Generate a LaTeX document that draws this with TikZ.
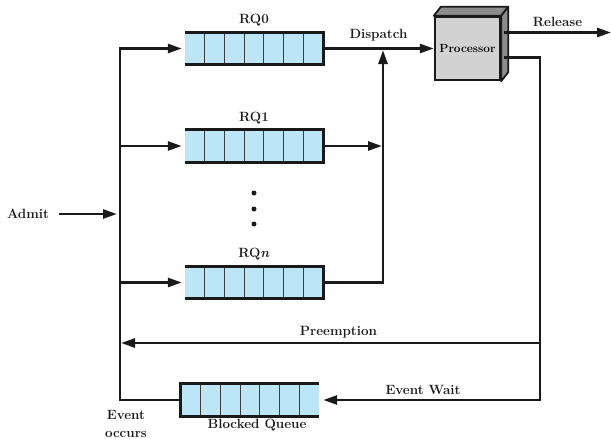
\documentclass[tikz,border=0pt]{standalone}
\usepackage{xcolor}
\definecolor{qFill}{HTML}{BDE5F8}
\definecolor{qCell}{HTML}{3C3C3C}
\definecolor{procFront}{HTML}{D2D2D2}
\definecolor{procSide}{HTML}{8C8C8C}
\definecolor{lineDark}{HTML}{1A1A1A}
\usepackage{tikz}
\usetikzlibrary{arrows.meta,positioning,calc}
\tikzset{
    queue/.style={
        rectangle,
        fill=qFill,
        minimum width=138pt,
        minimum height=32pt,
        inner sep=0pt,
        path picture={
            \foreach \k in {1,...,6}
                \draw[qCell, line width=1pt]
                    ($(path picture bounding box.south west)!\k/7!(path picture bounding box.south east)$)
                    -- ++(0pt,32pt);
        }
    },
    qborder/.style={
        draw=lineDark,
        line width=3pt
    },
    proc/.style={
        draw=lineDark,
        fill=procFront,
        rectangle,
        line width=2.4pt,
        minimum width=65pt,
        minimum height=63pt,
        font=\bfseries\fontsize{11.8}{13}\selectfont
    },
    proc3d/.style={
        draw=lineDark,
        fill=procSide,
        line width=1.8pt,
        line join=round
    },
    flow/.style={
        draw=lineDark,
        line width=2.7pt
    },
    arrow/.style={
        flow,
        -{Triangle[length=14pt,width=9pt]}
    },
    lbl/.style={
        font=\bfseries\fontsize{13.4}{18}\selectfont,
        text=lineDark,
        inner sep=2pt,
        align=center
    }
}

\begin{document}
\begin{tikzpicture}[x=1pt, y=-1pt]
    \useasboundingbox (0,0) rectangle (611,439);

    \node[queue] (rq0) at (254,48.5) {};
    \node[queue] (rq1) at (254,146) {};
    \node[queue] (rqn) at (254,282.5) {};
    \node[queue] (bq) at (250,400) {};
    \node[lbl, above=4pt of rq0] (rq0lbl) {RQ0};
    \node[lbl, above=4pt of rq1] (rq1lbl) {RQ1};
    \node[lbl, above=4pt of rqn] (rqnlbl) {RQ\textit{n}};
    \node[lbl, below=1pt of bq, xshift=7pt] (bqlbl) {Blocked Queue};
    \node[proc] (proc) at (467.5,48.5) {Processor};
    \node[lbl] (admit) at (28,214) {Admit};
    \node[lbl] (occurs) at (126,424) {Event\\occurs};

    \coordinate (busTop) at (120,48.5);
    \coordinate (merge) at (383,48.5);
    \coordinate (loopTop) at (540,57.5);
    \coordinate (preempt) at (540,343);
    \coordinate (release) at (611,32.5);

    \draw[proc3d] (proc.north west) -- ($(proc.north west)+(7,-9)$) -- ($(proc.north east)+(7,-9)$) -- (proc.north east) -- cycle;
    \draw[proc3d] (proc.north east) -- ($(proc.north east)+(7,-9)$) -- ($(proc.south east)+(7,-9)$) -- (proc.south east) -- cycle;

    \foreach \q in {rq0,rq1,rqn}
        \draw[qborder] (\q.north west) -- (\q.north east) -- (\q.south east) -- (\q.south west);
    \draw[qborder] (bq.north east) -- (bq.north west) -- (bq.south west) -- (bq.south east);

    \foreach \y in {193,209,224}
        \fill[lineDark] (254,\y) circle (2.5pt);

    \draw[arrow, shorten <=8pt, shorten >=3pt] (admit) -- (admit -| busTop);
    \draw[arrow, shorten >=3pt] (bq.west) -- (bq.west -| busTop) -- (busTop) -- (rq0.west);
    \draw[arrow, shorten >=3pt] (rq1.west -| busTop) -- (rq1.west);
    \draw[arrow, shorten >=3pt] (rqn.west -| busTop) -- (rqn.west);

    \draw[arrow] (rq0.east) -- node[lbl, above=4pt] {Dispatch} (proc.west);
    \draw[arrow, shorten >=1pt] (rq1.east) -- (rq1.east -| merge);
    \draw[arrow, shorten >=1.5pt] (rqn.east) -- (rqn.east -| merge) -- (merge);

    \draw[arrow] ([xshift=3pt,yshift=16pt]proc.east) -- node[lbl, above=2pt] {Release} (release);
    \draw[arrow, shorten >=4pt] ([xshift=3pt,yshift=-9pt]proc.east) -- (loopTop) -- (loopTop |- bq.east)
        -- node[lbl, above=2pt, pos=0.53] {Event Wait} (bq.east);
    \draw[arrow, shorten >=1pt] (preempt) -- node[lbl, above=2pt, pos=0.48] {Preemption} (preempt -| busTop);
\end{tikzpicture}
\end{document}
